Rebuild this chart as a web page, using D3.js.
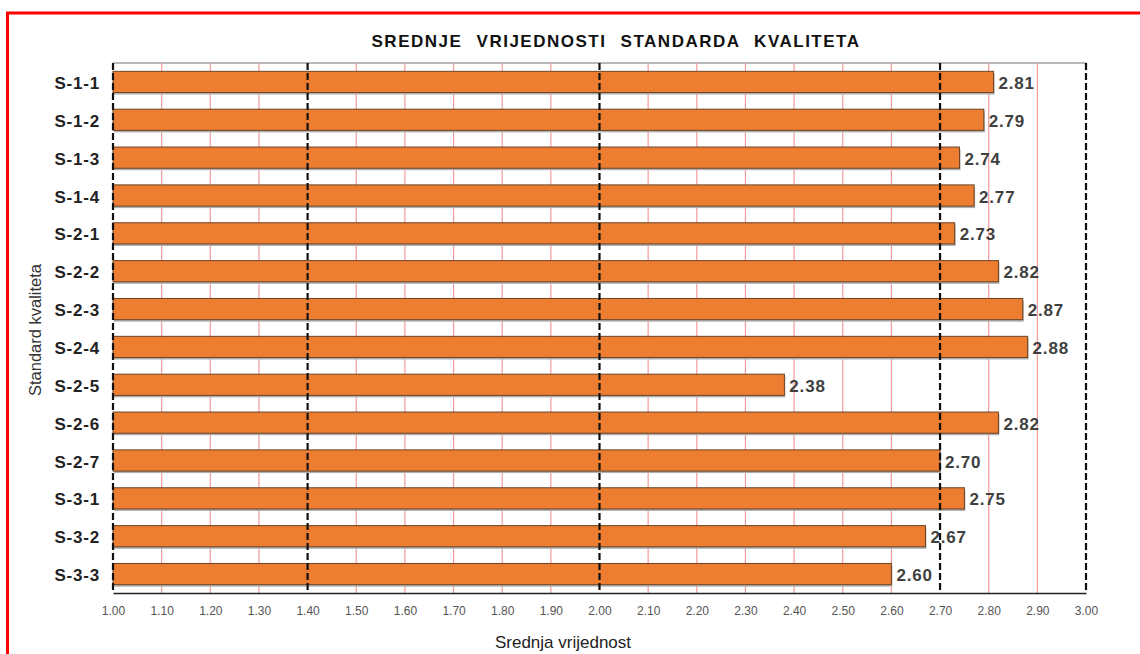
<!DOCTYPE html>
<html>
<head>
<meta charset="utf-8">
<script src="https://cdn.jsdelivr.net/npm/d3@7"></script>
<style>
  body { margin: 0; background: #fff; }
  svg { display: block; font-family: "Liberation Sans", Arial, sans-serif; }
</style>
</head>
<body>
<svg id="chart" width="1140" height="654"></svg>
<script>
// data
const categories = ["S-1-1", "S-1-2", "S-1-3", "S-1-4", "S-2-1", "S-2-2", "S-2-3",
                    "S-2-4", "S-2-5", "S-2-6", "S-2-7", "S-3-1", "S-3-2", "S-3-3"];
const values = [2.81, 2.79, 2.74, 2.77, 2.73, 2.82, 2.87, 2.88, 2.38, 2.82, 2.70, 2.75, 2.67, 2.60];
const tickValues = [1.0, 1.1, 1.2, 1.3, 1.4, 1.5, 1.6, 1.7, 1.8, 1.9, 2.0,
                    2.1, 2.2, 2.3, 2.4, 2.5, 2.6, 2.7, 2.8, 2.9, 3.0];
const dashedLines = [1.0, 1.4, 2.0, 2.7, 3.0];

const svg = d3.select("#chart");
const plotLeft = 113, plotRight = 1086, plotTop = 63, plotBottom = 593;

// red frame round the whole picture
svg.append("rect")
    .attr("x", 7.5).attr("y", 13).attr("width", 1200).attr("height", 700)
    .attr("fill", "none").attr("stroke", "#ff0000").attr("stroke-width", 3);

const x = d3.scaleLinear().domain([1, 3]).range([plotLeft, plotRight]);
const y = d3.scaleBand().domain(categories).range([plotTop, plotBottom]).paddingInner(0.44).paddingOuter(0.22);

// top border of plot
svg.append("line")
    .attr("x1", plotLeft).attr("x2", plotRight).attr("y1", plotTop).attr("y2", plotTop)
    .attr("stroke", "#a0a0a0").attr("stroke-width", 1.5);

// light red grid every 0.1
svg.append("g").selectAll("line")
    .data(tickValues.filter(d => !dashedLines.includes(d)))
    .join("line")
    .attr("x1", d => x(d)).attr("x2", d => x(d))
    .attr("y1", plotTop).attr("y2", plotBottom)
    .attr("stroke", "#f59a9a").attr("stroke-width", 1.2);

// bars with a small grey shadow
const bars = svg.append("g");
bars.selectAll(".shadow")
    .data(values)
    .join("rect")
    .attr("class", "shadow")
    .attr("x", x(1) + 1)
    .attr("y", (d, i) => y(categories[i]) + 2)
    .attr("width", d => x(d) - x(1))
    .attr("height", y.bandwidth())
    .attr("fill", "#b0b0b0");
bars.selectAll(".bar")
    .data(values)
    .join("rect")
    .attr("class", "bar")
    .attr("x", x(1))
    .attr("y", (d, i) => y(categories[i]))
    .attr("width", d => x(d) - x(1))
    .attr("height", y.bandwidth())
    .attr("fill", "#ed7d31")
    .attr("stroke", "#6b4424").attr("stroke-width", 1);

// black dashed reference lines
svg.append("g").selectAll("line")
    .data(dashedLines)
    .join("line")
    .attr("x1", d => x(d)).attr("x2", d => x(d))
    .attr("y1", plotTop).attr("y2", plotBottom)
    .attr("stroke", "#111").attr("stroke-width", 2.2)
    .attr("stroke-dasharray", "7,3");

// value labels
svg.append("g").selectAll("text")
    .data(values)
    .join("text")
    .attr("x", d => x(d) + 5)
    .attr("y", (d, i) => y(categories[i]) + y.bandwidth() / 2 + 1)
    .attr("dy", "0.36em")
    .attr("font-size", 17).attr("font-weight", "bold")
    .attr("letter-spacing", 0.8)
    .attr("fill", "#404040")
    .text(d => d.toFixed(2));

// x axis
const xAxis = svg.append("g")
    .attr("transform", `translate(0,${plotBottom})`)
    .call(d3.axisBottom(x).tickValues(tickValues).tickSize(0).tickPadding(13)
        .tickFormat(d3.format(".2f")));
xAxis.select(".domain").attr("stroke", "#222").attr("stroke-width", 1.3);
xAxis.selectAll("text")
    .attr("font-family", "'Liberation Sans Narrow', 'Liberation Sans', Arial")
    .attr("font-size", 12).attr("fill", "#555");

// category labels
svg.append("g").selectAll("text")
    .data(categories)
    .join("text")
    .attr("x", 100)
    .attr("y", d => y(d) + y.bandwidth() / 2 + 1)
    .attr("dy", "0.36em")
    .attr("text-anchor", "end")
    .attr("font-size", 17).attr("font-weight", "bold")
    .attr("letter-spacing", 0.8)
    .attr("fill", "#222")
    .text(d => d);

// titles
svg.append("text")
    .attr("x", 616).attr("y", 47)
    .attr("text-anchor", "middle")
    .attr("font-size", 17).attr("font-weight", "bold")
    .attr("letter-spacing", 1.5).attr("word-spacing", 8)
    .attr("fill", "#111")
    .text("SREDNJE VRIJEDNOSTI STANDARDA KVALITETA");

svg.append("text")
    .attr("x", 563).attr("y", 648)
    .attr("text-anchor", "middle")
    .attr("font-size", 17).attr("fill", "#222")
    .text("Srednja vrijednost");

svg.append("text")
    .attr("transform", "translate(41,330) rotate(-90)")
    .attr("text-anchor", "middle")
    .attr("font-size", 16.5).attr("fill", "#333")
    .text("Standard kvaliteta");
</script>
</body>
</html>
